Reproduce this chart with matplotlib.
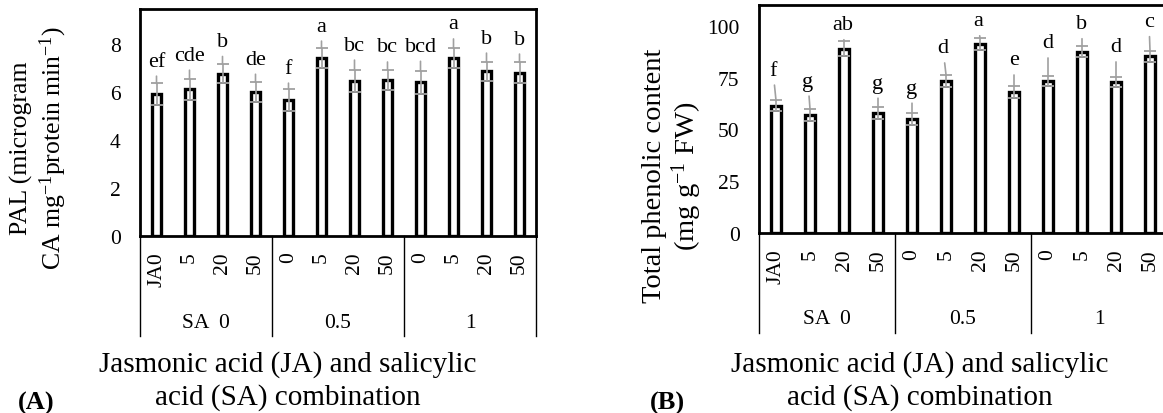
import numpy as np
import matplotlib.pyplot as plt
from matplotlib.transforms import blended_transform_factory

plt.rcParams['font.family'] = ['Liberation Serif', 'DejaVu Serif']
plt.rcParams['mathtext.fontset'] = 'custom'
plt.rcParams['mathtext.rm'] = 'Liberation Serif'
plt.rcParams['mathtext.it'] = 'Liberation Serif:italic'

# treatment levels (JA within SA groups)
ja_levels = ["JA0", "5", "20", "50", "0", "5", "20", "50", "0", "5", "20", "50"]
sa_levels = ["SA  0", "0.5", "1"]

# PAL activity
pal = [5.9, 6.1, 6.75, 6.0, 5.65, 7.4, 6.45, 6.5, 6.4, 7.4, 6.85, 6.8]
pal_err = [0.45, 0.45, 0.4, 0.42, 0.46, 0.42, 0.46, 0.42, 0.48, 0.42, 0.39, 0.43]
pal_letters = ["ef", "cde", "b", "de", "f", "a", "bc", "bc", "bcd", "a", "b", "b"]

# total phenolic content
phen = [61.5, 57, 89, 58, 55, 73.5, 91, 68, 73.5, 87.5, 73, 85.3]
phen_err = [2.5, 2.8, 3.4, 2.9, 2.8, 2.9, 2.9, 2.8, 2.4, 2.7, 2.4, 2.7]
phen_letters = ["f", "g", "ab", "g", "g", "d", "a", "e", "d", "b", "d", "c"]

# where the significance letters sit
pal_label_y = [7.28, 7.53, 8.1, 7.36, 6.99, 8.74, 7.95, 7.87, 7.9, 8.83, 8.24, 8.2]
phen_label_y = [78.6, 73.3, 100.5, 72.3, 69.9, 89.3, 102.4, 83.5, 91.7, 101, 89.8, 102]
phen_label_dx = [-0.09, -0.06, -0.03, 0, 0, -0.09, -0.06, 0, 0, 0, 0, -0.03]

W, H = 1163, 414
fig = plt.figure(figsize=(W / 100, H / 100), dpi=100)


def panel(rect, vals, errs, letters, label_y, label_dx, ylim, yticks):
    ax = fig.add_axes(rect)
    x = np.arange(len(vals))
    ax.bar(x, vals, width=0.285, color='white', edgecolor='black', linewidth=2.4, zorder=2)
    ax.errorbar(x, vals, yerr=[errs, np.zeros(len(errs))], fmt='none', ecolor='black',
                elinewidth=0, capsize=2.2, capthick=1.4, zorder=3)
    ax.errorbar(x, vals, yerr=errs, fmt='none', ecolor='#a0a0a0',
                elinewidth=1.2, capsize=4.3, capthick=1.3, zorder=4)
    for xi, v, e, lab, ly, dx in zip(x, vals, errs, letters, label_y, label_dx):
        ax.annotate(lab, xy=(xi, v + e), xytext=(xi + dx, ly), ha='center', va='center',
                    fontsize=16, zorder=5,
                    arrowprops=dict(arrowstyle='-', color='#a0a0a0', lw=1.2,
                                    shrinkA=2, shrinkB=0))
    ax.set_xlim(-0.5, len(vals) - 0.5)
    ax.set_ylim(*ylim)
    ax.set_yticks(yticks)
    ax.set_xticks([])
    ax.tick_params(axis='y', length=0, pad=14, labelsize=15.5)
    for s in ax.spines.values():
        s.set_linewidth(2.0)

    # two-level category axis below the bars
    tr = blended_transform_factory(ax.transData, ax.transAxes)
    px = ax.bbox.height
    for xi, lab in zip(x, ja_levels):
        ax.text(xi, -15 / px, lab, transform=tr, rotation=90,
                ha='center', va='top', fontsize=15.5)
    for g, lab in enumerate(sa_levels):
        ax.text(4 * g + 1.5, -86 / px, lab, transform=tr, ha='center', va='center',
                fontsize=15.5)
    for b in [-0.5, 3.5, 7.5, 11.5]:
        ax.plot([b, b], [0, -100 / px], transform=tr, color='black', lw=1.0,
                clip_on=False)
    return ax


axA = panel([140 / W, 1 - 237 / H, 396 / W, 227 / H], pal, pal_err, pal_letters,
            pal_label_y, [0] * 12, (0, 9.45), [0, 2, 4, 6, 8])
axB = panel([759 / W, 1 - 234 / H, 408 / W, 228 / H], phen, phen_err, phen_letters,
            phen_label_y, phen_label_dx, (0, 110), [0, 25, 50, 75, 100])

fig.text(39 / W, 1 - 148 / H, "PAL (microgram\nCA mg$^{-1}$protein min$^{-1}$)",
         rotation=90, ha='center', va='center', fontsize=18.5, linespacing=1.2)
fig.text(673 / W, 1 - 176 / H, "Total phenolic content\n(mg g$^{-1}$ FW)",
         rotation=90, ha='center', va='center', fontsize=20.5, linespacing=1.12)

xtitle = "Jasmonic acid (JA) and salicylic\nacid (SA) combination"
fig.text(288 / W, 1 - 381 / H, xtitle, ha='center', va='center', fontsize=21,
         linespacing=1.3)
fig.text(920 / W, 1 - 381 / H, xtitle, ha='center', va='center', fontsize=21,
         linespacing=1.3)
fig.text(36 / W, 1 - 403 / H, "(A)", ha='center', va='center', fontsize=19,
         fontweight='bold')
fig.text(667 / W, 1 - 403 / H, "(B)", ha='center', va='center', fontsize=19,
         fontweight='bold')

fig.savefig("out.png", dpi=100)
